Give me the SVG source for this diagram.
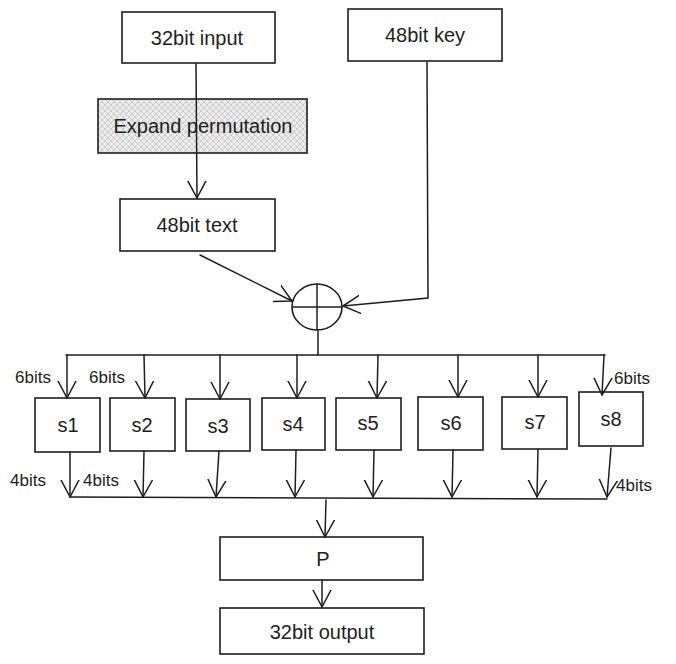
<svg xmlns="http://www.w3.org/2000/svg" width="676" height="664" viewBox="0 0 676 664">
<defs>
<pattern id="hatch" patternUnits="userSpaceOnUse" width="6" height="6">
<rect width="6" height="6" fill="#ececec"/>
<path d="M0,6 L6,0 M0,0 L6,6" stroke="#c4c4c4" stroke-width="0.8"/>
</pattern>
<marker id="arr" markerUnits="userSpaceOnUse" markerWidth="24" markerHeight="24" refX="17" refY="10" orient="auto">
<path d="M0,1 L17,10 L0,19" fill="none" stroke="#1e1e1e" stroke-width="1.5" stroke-linecap="round" stroke-linejoin="round"/>
</marker>
</defs>
<style>
.box{fill:#ffffff;stroke:#1e1e1e;stroke-width:1.6}
.hbox{fill:url(#hatch);stroke:#1e1e1e;stroke-width:1.6}
.ln{fill:none;stroke:#1e1e1e;stroke-width:1.5;stroke-linecap:round}
.t{font-family:"Liberation Sans",Arial,sans-serif;font-size:20px;fill:#1e1e1e;text-anchor:middle;dominant-baseline:central}
.lbl{font-family:"Liberation Sans",Arial,sans-serif;font-size:17px;fill:#1e1e1e;dominant-baseline:central}
</style>
<rect width="676" height="664" fill="#ffffff"/>

<g id="n-input"><rect class="box" x="122" y="12" width="153" height="51"/><text class="t" x="197" y="38">32bit input</text></g>
<g id="n-key"><rect class="box" x="348" y="9" width="154" height="52"/><text class="t" x="425" y="35">48bit key</text></g>
<g id="n-expand"><rect class="hbox" x="98" y="99" width="209" height="54"/><text class="t" x="203" y="126">Expand permutation</text></g>
<g id="n-text"><rect class="box" x="120" y="199" width="155" height="52"/><text class="t" x="197" y="225">48bit text</text></g>
<g id="n-xor"><ellipse class="box" cx="317" cy="307" rx="25" ry="23"/><line class="ln" x1="317" y1="284" x2="317" y2="330"/><line class="ln" x1="293" y1="307" x2="342" y2="307"/></g>

<g id="n-s1"><rect class="box" x="35" y="398" width="65" height="54"/><text class="t" x="68" y="425">s1</text></g>
<g id="n-s2"><rect class="box" x="110" y="398" width="65" height="53"/><text class="t" x="142" y="425">s2</text></g>
<g id="n-s3"><rect class="box" x="186" y="399" width="64" height="52"/><text class="t" x="218" y="426">s3</text></g>
<g id="n-s4"><rect class="box" x="262" y="398" width="63" height="52"/><text class="t" x="293" y="424">s4</text></g>
<g id="n-s5"><rect class="box" x="336" y="398" width="65" height="52"/><text class="t" x="368" y="423">s5</text></g>
<g id="n-s6"><rect class="box" x="418" y="397" width="65" height="53"/><text class="t" x="451" y="423">s6</text></g>
<g id="n-s7"><rect class="box" x="502" y="397" width="65" height="52"/><text class="t" x="535" y="422">s7</text></g>
<g id="n-s8"><rect class="box" x="579" y="392" width="64" height="54"/><text class="t" x="611" y="419">s8</text></g>

<g id="n-p"><rect class="box" x="220" y="537" width="203" height="43"/><text class="t" x="323" y="559">P</text></g>
<g id="n-output"><rect class="box" x="220" y="608" width="204" height="46"/><text class="t" x="322" y="632">32bit output</text></g>

<g id="labels">
<text class="lbl" x="15" y="377">6bits</text>
<text class="lbl" x="89" y="377">6bits</text>
<text class="lbl" x="614" y="378">6bits</text>
<text class="lbl" x="10" y="480">4bits</text>
<text class="lbl" x="83" y="480">4bits</text>
<text class="lbl" x="616" y="485">4bits</text>
</g>

<g id="connectors">
<line class="ln" x1="196" y1="64" x2="197" y2="198" marker-end="url(#arr)"/>
<line class="ln" x1="200" y1="255" x2="292" y2="301" marker-end="url(#arr)"/>
<polyline class="ln" points="427,62 428,298 343,306" marker-end="url(#arr)"/>
<line class="ln" x1="318" y1="331" x2="318" y2="355"/>
<line class="ln" x1="66" y1="355" x2="605" y2="355"/>
<line class="ln" x1="67" y1="355" x2="67" y2="398" marker-end="url(#arr)"/>
<line class="ln" x1="144" y1="355" x2="145" y2="398" marker-end="url(#arr)"/>
<line class="ln" x1="220" y1="355" x2="220" y2="399" marker-end="url(#arr)"/>
<line class="ln" x1="297" y1="355" x2="297" y2="398" marker-end="url(#arr)"/>
<line class="ln" x1="378" y1="355" x2="377" y2="398" marker-end="url(#arr)"/>
<line class="ln" x1="458" y1="355" x2="458" y2="397" marker-end="url(#arr)"/>
<line class="ln" x1="538" y1="355" x2="538" y2="397" marker-end="url(#arr)"/>
<line class="ln" x1="604" y1="355" x2="602" y2="395" marker-end="url(#arr)"/>
<line class="ln" x1="70" y1="452" x2="70" y2="497" marker-end="url(#arr)"/>
<line class="ln" x1="144" y1="451" x2="143" y2="497" marker-end="url(#arr)"/>
<line class="ln" x1="219" y1="451" x2="216" y2="497" marker-end="url(#arr)"/>
<line class="ln" x1="296" y1="450" x2="295" y2="497" marker-end="url(#arr)"/>
<line class="ln" x1="374" y1="450" x2="373" y2="497" marker-end="url(#arr)"/>
<line class="ln" x1="453" y1="450" x2="452" y2="497" marker-end="url(#arr)"/>
<line class="ln" x1="538" y1="449" x2="537" y2="497" marker-end="url(#arr)"/>
<line class="ln" x1="611" y1="448" x2="607" y2="497" marker-end="url(#arr)"/>
<line class="ln" x1="70" y1="497" x2="607" y2="499"/>
<line class="ln" x1="326" y1="500" x2="325" y2="537" marker-end="url(#arr)"/>
<line class="ln" x1="322" y1="580" x2="322" y2="607" marker-end="url(#arr)"/>
</g>
</svg>
